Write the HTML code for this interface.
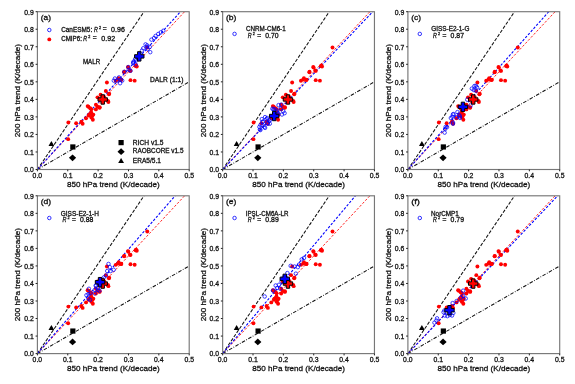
<!DOCTYPE html>
<html><head><meta charset="utf-8"><style>
html,body{margin:0;padding:0;background:#fff;}
body{width:575px;height:384px;overflow:hidden;}
svg{display:block;will-change:transform;filter:blur(0.25px);}
text{font-family:"Liberation Sans", sans-serif;fill:#111;stroke:#111;stroke-width:0.28px;}
</style></head><body>
<svg width="575" height="384" viewBox="0 0 575 384">
<clipPath id="ca"><rect x="37.4" y="11.7" width="151.8" height="157.8"/></clipPath>
<g clip-path="url(#ca)">
<line x1="37.4" y1="169.5" x2="144.01" y2="11.7" stroke="#111" stroke-width="1.05" stroke-dasharray="3.4 1.6"/>
<line x1="37.4" y1="169.5" x2="189.2" y2="81.83" stroke="#111" stroke-width="1.05" stroke-dasharray="3.6 1.5 0.8 1.5"/>
<line x1="37.4" y1="169.5" x2="184.62" y2="11.7" stroke="#ff2525" stroke-width="1.0" stroke-dasharray="2.4 1.7"/>
<line x1="37.4" y1="169.5" x2="180.46" y2="11.7" stroke="#0000ff" stroke-width="1.1" stroke-dasharray="2.5 1.6"/>
<circle cx="68.36" cy="122.51" r="1.95" fill="#ff0000"/>
<circle cx="68.16" cy="139.14" r="1.95" fill="#ff0000"/>
<circle cx="76.15" cy="123.31" r="1.95" fill="#ff0000"/>
<circle cx="81.34" cy="121.81" r="1.95" fill="#ff0000"/>
<circle cx="82.64" cy="123.81" r="1.95" fill="#ff0000"/>
<circle cx="86.04" cy="118.3" r="1.95" fill="#ff0000"/>
<circle cx="88.43" cy="106.68" r="1.95" fill="#ff0000"/>
<circle cx="90.23" cy="108.18" r="1.95" fill="#ff0000"/>
<circle cx="89.23" cy="114.5" r="1.95" fill="#ff0000"/>
<circle cx="91.23" cy="112.39" r="1.95" fill="#ff0000"/>
<circle cx="92.33" cy="116" r="1.95" fill="#ff0000"/>
<circle cx="92.83" cy="119.71" r="1.95" fill="#ff0000"/>
<circle cx="91.33" cy="117.6" r="1.95" fill="#ff0000"/>
<circle cx="90.73" cy="113.49" r="1.95" fill="#ff0000"/>
<circle cx="93.33" cy="114.6" r="1.95" fill="#ff0000"/>
<circle cx="88.63" cy="115.6" r="1.95" fill="#ff0000"/>
<circle cx="95.92" cy="104.68" r="1.95" fill="#ff0000"/>
<circle cx="97.52" cy="106.78" r="1.95" fill="#ff0000"/>
<circle cx="99.62" cy="107.78" r="1.95" fill="#ff0000"/>
<circle cx="95.92" cy="109.39" r="1.95" fill="#ff0000"/>
<circle cx="97.52" cy="97.36" r="1.95" fill="#ff0000"/>
<circle cx="100.62" cy="94.76" r="1.95" fill="#ff0000"/>
<circle cx="105.81" cy="91.05" r="1.95" fill="#ff0000"/>
<circle cx="108.91" cy="94.26" r="1.95" fill="#ff0000"/>
<circle cx="108.41" cy="102.07" r="1.95" fill="#ff0000"/>
<circle cx="106.91" cy="82.43" r="1.95" fill="#ff0000"/>
<circle cx="109.21" cy="93.66" r="1.95" fill="#ff0000"/>
<circle cx="117.99" cy="79.53" r="1.95" fill="#ff0000"/>
<circle cx="121.09" cy="80.03" r="1.95" fill="#ff0000"/>
<circle cx="130.48" cy="80.13" r="1.95" fill="#ff0000"/>
<circle cx="134.67" cy="80.63" r="1.95" fill="#ff0000"/>
<circle cx="124.29" cy="71.81" r="1.95" fill="#ff0000"/>
<circle cx="130.48" cy="70.91" r="1.95" fill="#ff0000"/>
<circle cx="128.38" cy="67.61" r="1.95" fill="#ff0000"/>
<circle cx="136.17" cy="65.5" r="1.95" fill="#ff0000"/>
<circle cx="136.77" cy="66.6" r="1.95" fill="#ff0000"/>
<circle cx="147.26" cy="47.47" r="1.95" fill="#ff0000"/>
<circle cx="115.7" cy="80.73" r="1.95" fill="#ff0000"/>
<circle cx="121.29" cy="79.63" r="1.95" fill="#ff0000"/>
<circle cx="118.69" cy="78.13" r="1.95" fill="#ff0000"/>
<circle cx="124.09" cy="72.22" r="1.95" fill="#ff0000"/>
<circle cx="129.98" cy="70.51" r="1.95" fill="#ff0000"/>
<circle cx="127.98" cy="67.01" r="1.95" fill="#ff0000"/>
<circle cx="135.57" cy="66.1" r="1.95" fill="#ff0000"/>
<circle cx="91.33" cy="109.19" r="1.95" fill="#ff0000"/>
<circle cx="87.63" cy="106.08" r="1.95" fill="#ff0000"/>
<circle cx="99.62" cy="107.18" r="1.95" fill="#ff0000"/>
<circle cx="103.81" cy="96.86" r="1.95" fill="#ff0000"/>
<circle cx="107.91" cy="100.87" r="1.95" fill="#ff0000"/>
<circle cx="113.8" cy="80.63" r="1.75" fill="none" stroke="#0000ff" stroke-width="0.75"/>
<circle cx="114.9" cy="78.53" r="1.75" fill="none" stroke="#0000ff" stroke-width="0.75"/>
<circle cx="117" cy="80.63" r="1.75" fill="none" stroke="#0000ff" stroke-width="0.75"/>
<circle cx="118.99" cy="77.42" r="1.75" fill="none" stroke="#0000ff" stroke-width="0.75"/>
<circle cx="120.59" cy="79.63" r="1.75" fill="none" stroke="#0000ff" stroke-width="0.75"/>
<circle cx="122.19" cy="80.63" r="1.75" fill="none" stroke="#0000ff" stroke-width="0.75"/>
<circle cx="120.09" cy="83.24" r="1.75" fill="none" stroke="#0000ff" stroke-width="0.75"/>
<circle cx="124.29" cy="71.81" r="1.75" fill="none" stroke="#0000ff" stroke-width="0.75"/>
<circle cx="128.38" cy="67.11" r="1.75" fill="none" stroke="#0000ff" stroke-width="0.75"/>
<circle cx="128.88" cy="69.71" r="1.75" fill="none" stroke="#0000ff" stroke-width="0.75"/>
<circle cx="130.48" cy="70.71" r="1.75" fill="none" stroke="#0000ff" stroke-width="0.75"/>
<circle cx="133.57" cy="62.4" r="1.75" fill="none" stroke="#0000ff" stroke-width="0.75"/>
<circle cx="136.17" cy="60.29" r="1.75" fill="none" stroke="#0000ff" stroke-width="0.75"/>
<circle cx="135.67" cy="64.5" r="1.75" fill="none" stroke="#0000ff" stroke-width="0.75"/>
<circle cx="133.57" cy="61.59" r="1.75" fill="none" stroke="#0000ff" stroke-width="0.75"/>
<circle cx="135.17" cy="58.99" r="1.75" fill="none" stroke="#0000ff" stroke-width="0.75"/>
<circle cx="133.07" cy="63.1" r="1.75" fill="none" stroke="#0000ff" stroke-width="0.75"/>
<circle cx="141.96" cy="50.57" r="1.75" fill="none" stroke="#0000ff" stroke-width="0.75"/>
<circle cx="145.56" cy="44.36" r="1.75" fill="none" stroke="#0000ff" stroke-width="0.75"/>
<circle cx="146.66" cy="46.97" r="1.75" fill="none" stroke="#0000ff" stroke-width="0.75"/>
<circle cx="147.65" cy="49.07" r="1.75" fill="none" stroke="#0000ff" stroke-width="0.75"/>
<circle cx="149.75" cy="46.97" r="1.75" fill="none" stroke="#0000ff" stroke-width="0.75"/>
<circle cx="150.25" cy="52.18" r="1.75" fill="none" stroke="#0000ff" stroke-width="0.75"/>
<circle cx="147.16" cy="45.36" r="1.75" fill="none" stroke="#0000ff" stroke-width="0.75"/>
<circle cx="151.45" cy="39.65" r="1.75" fill="none" stroke="#0000ff" stroke-width="0.75"/>
<circle cx="154.05" cy="38.05" r="1.75" fill="none" stroke="#0000ff" stroke-width="0.75"/>
<circle cx="155.59" cy="35.95" r="1.75" fill="none" stroke="#0000ff" stroke-width="0.75"/>
<circle cx="158.24" cy="33.94" r="1.75" fill="none" stroke="#0000ff" stroke-width="0.75"/>
<circle cx="160.84" cy="32.34" r="1.75" fill="none" stroke="#0000ff" stroke-width="0.75"/>
<circle cx="163.33" cy="30.74" r="1.75" fill="none" stroke="#0000ff" stroke-width="0.75"/>
<circle cx="137.77" cy="57.29" r="1.75" fill="none" stroke="#0000ff" stroke-width="0.75"/>
<circle cx="143.26" cy="48.27" r="1.75" fill="none" stroke="#0000ff" stroke-width="0.75"/>
<path d="M101.02 94.77 L104.41 94.77 L104.41 97.77 L107.41 97.77 L107.41 101.16 L104.41 101.16 L104.41 104.17 L101.02 104.17 L101.02 101.16 L98.01 101.16 L98.01 97.77 L101.02 97.77 Z" fill="#ff0000" stroke="#000" stroke-width="1.0"/>
<path d="M137.57 51.68 L140.96 51.68 L140.96 54.69 L143.97 54.69 L143.97 58.08 L140.96 58.08 L140.96 61.08 L137.57 61.08 L137.57 58.08 L134.57 58.08 L134.57 54.69 L137.57 54.69 Z" fill="#0000ff" stroke="#000" stroke-width="1.0"/>
<path d="M51.38 140.95 L54.28 145.95 L48.48 145.95 Z" fill="#000"/>
<rect x="70.25" y="144.36" width="5.2" height="5.2" fill="#000"/>
<path d="M72.55 154.38 L76.15 157.78 L72.55 161.18 L68.95 157.78 Z" fill="#000"/>
</g>
<rect x="37.4" y="11.7" width="151.8" height="157.8" fill="none" stroke="#777" stroke-width="1.15"/>
<line x1="37.4" y1="169.5" x2="37.4" y2="171.3" stroke="#222" stroke-width="1.0"/>
<text x="32.63" y="178.1" font-size="6.7px" textLength="9.46" lengthAdjust="spacingAndGlyphs">0.0</text>
<line x1="67.76" y1="169.5" x2="67.76" y2="171.3" stroke="#222" stroke-width="1.0"/>
<text x="62.98" y="178.1" font-size="6.7px" textLength="9.57" lengthAdjust="spacingAndGlyphs">0.1</text>
<line x1="98.12" y1="169.5" x2="98.12" y2="171.3" stroke="#222" stroke-width="1.0"/>
<text x="93.34" y="178.1" font-size="6.7px" textLength="9.57" lengthAdjust="spacingAndGlyphs">0.2</text>
<line x1="128.48" y1="169.5" x2="128.48" y2="171.3" stroke="#222" stroke-width="1.0"/>
<text x="123.7" y="178.1" font-size="6.7px" textLength="9.57" lengthAdjust="spacingAndGlyphs">0.3</text>
<line x1="158.84" y1="169.5" x2="158.84" y2="171.3" stroke="#222" stroke-width="1.0"/>
<text x="154.07" y="178.1" font-size="6.7px" textLength="9.46" lengthAdjust="spacingAndGlyphs">0.4</text>
<line x1="189.2" y1="169.5" x2="189.2" y2="171.3" stroke="#222" stroke-width="1.0"/>
<text x="184.42" y="178.1" font-size="6.7px" textLength="9.57" lengthAdjust="spacingAndGlyphs">0.5</text>
<line x1="35.6" y1="169.5" x2="37.4" y2="169.5" stroke="#222" stroke-width="1.0"/>
<text x="24.3" y="172.35" font-size="6.7px" textLength="9.42" lengthAdjust="spacingAndGlyphs">0.0</text>
<line x1="35.6" y1="151.97" x2="37.4" y2="151.97" stroke="#222" stroke-width="1.0"/>
<text x="24.3" y="154.82" font-size="6.7px" textLength="9.52" lengthAdjust="spacingAndGlyphs">0.1</text>
<line x1="35.6" y1="134.43" x2="37.4" y2="134.43" stroke="#222" stroke-width="1.0"/>
<text x="24.3" y="137.28" font-size="6.7px" textLength="9.52" lengthAdjust="spacingAndGlyphs">0.2</text>
<line x1="35.6" y1="116.9" x2="37.4" y2="116.9" stroke="#222" stroke-width="1.0"/>
<text x="24.3" y="119.75" font-size="6.7px" textLength="9.52" lengthAdjust="spacingAndGlyphs">0.3</text>
<line x1="35.6" y1="99.37" x2="37.4" y2="99.37" stroke="#222" stroke-width="1.0"/>
<text x="24.3" y="102.22" font-size="6.7px" textLength="9.42" lengthAdjust="spacingAndGlyphs">0.4</text>
<line x1="35.6" y1="81.83" x2="37.4" y2="81.83" stroke="#222" stroke-width="1.0"/>
<text x="24.3" y="84.68" font-size="6.7px" textLength="9.52" lengthAdjust="spacingAndGlyphs">0.5</text>
<line x1="35.6" y1="64.3" x2="37.4" y2="64.3" stroke="#222" stroke-width="1.0"/>
<text x="24.3" y="67.15" font-size="6.7px" textLength="9.52" lengthAdjust="spacingAndGlyphs">0.6</text>
<line x1="35.6" y1="46.77" x2="37.4" y2="46.77" stroke="#222" stroke-width="1.0"/>
<text x="24.3" y="49.62" font-size="6.7px" textLength="9.52" lengthAdjust="spacingAndGlyphs">0.7</text>
<line x1="35.6" y1="29.23" x2="37.4" y2="29.23" stroke="#222" stroke-width="1.0"/>
<text x="24.3" y="32.08" font-size="6.7px" textLength="9.52" lengthAdjust="spacingAndGlyphs">0.8</text>
<line x1="35.6" y1="11.7" x2="37.4" y2="11.7" stroke="#222" stroke-width="1.0"/>
<text x="24.3" y="14.55" font-size="6.7px" textLength="9.52" lengthAdjust="spacingAndGlyphs">0.9</text>
<text x="67.04" y="186.9" font-size="7.9px" textLength="92.59" lengthAdjust="spacingAndGlyphs">850 hPa trend (K/decade)</text>
<text x="-137.16" y="20.3" font-size="7.9px" textLength="93.19" lengthAdjust="spacingAndGlyphs" transform="rotate(-90)">200 hPa trend (K/decade)</text>
<text x="40.69" y="20.2" font-size="7px" textLength="10.29" lengthAdjust="spacingAndGlyphs">(a)</text>
<circle cx="49.3" cy="30" r="1.75" fill="none" stroke="#0000ff" stroke-width="0.8"/>
<circle cx="49.3" cy="39.4" r="1.95" fill="#ff0000"/>
<text x="61.15" y="31.6" font-size="6.3px" textLength="31.08" lengthAdjust="spacingAndGlyphs">CanESM5:</text>
<text x="93.96" y="31.6" font-size="6.3px" font-style="italic" textLength="3.92" lengthAdjust="spacingAndGlyphs">R</text>
<text x="98.96" y="28.7" font-size="4.3px" textLength="2.07" lengthAdjust="spacingAndGlyphs">2</text>
<text x="102.74" y="31.3" font-size="6.3px" textLength="3.9" lengthAdjust="spacingAndGlyphs">=</text>
<text x="111.13" y="31.6" font-size="6.3px" textLength="13.71" lengthAdjust="spacingAndGlyphs">0.96</text>
<text x="61.15" y="40.7" font-size="6.3px" textLength="20.75" lengthAdjust="spacingAndGlyphs">CMIP6:</text>
<text x="83.26" y="40.7" font-size="6.3px" font-style="italic" textLength="3.92" lengthAdjust="spacingAndGlyphs">R</text>
<text x="88.26" y="37.8" font-size="4.3px" textLength="2.07" lengthAdjust="spacingAndGlyphs">2</text>
<text x="92.84" y="40.4" font-size="6.3px" textLength="3.9" lengthAdjust="spacingAndGlyphs">=</text>
<text x="101.32" y="40.7" font-size="6.3px" textLength="13.82" lengthAdjust="spacingAndGlyphs">0.92</text>
<text x="82.96" y="64" font-size="6.3px" textLength="17.2" lengthAdjust="spacingAndGlyphs">MALR</text>
<text x="150.03" y="81.5" font-size="6.3px" textLength="33.45" lengthAdjust="spacingAndGlyphs">DALR (1:1)</text>
<rect x="118.5" y="140" width="5.2" height="5.2" fill="#000"/>
<path d="M121.1 148.3 L124.7 151.7 L121.1 155.1 L117.5 151.7 Z" fill="#000"/>
<path d="M121.1 158.1 L124 163.1 L118.2 163.1 Z" fill="#000"/>
<text x="132.83" y="144.5" font-size="6.3px" textLength="30.59" lengthAdjust="spacingAndGlyphs">RICH v1.5</text>
<text x="132.84" y="153.4" font-size="6.3px" textLength="50.63" lengthAdjust="spacingAndGlyphs">RAOBCORE v1.5</text>
<text x="132.83" y="162.5" font-size="6.3px" textLength="28.1" lengthAdjust="spacingAndGlyphs">ERA5/5.1</text>
<clipPath id="cb"><rect x="222.65" y="11.7" width="151.8" height="157.8"/></clipPath>
<g clip-path="url(#cb)">
<line x1="222.65" y1="169.5" x2="329.26" y2="11.7" stroke="#111" stroke-width="1.05" stroke-dasharray="3.4 1.6"/>
<line x1="222.65" y1="169.5" x2="374.45" y2="81.83" stroke="#111" stroke-width="1.05" stroke-dasharray="3.6 1.5 0.8 1.5"/>
<line x1="222.65" y1="169.5" x2="369.87" y2="11.7" stroke="#ff2525" stroke-width="1.0" stroke-dasharray="2.4 1.7"/>
<line x1="222.65" y1="169.5" x2="372.78" y2="11.7" stroke="#0000ff" stroke-width="1.1" stroke-dasharray="2.5 1.6"/>
<circle cx="253.61" cy="122.51" r="1.95" fill="#ff0000"/>
<circle cx="253.41" cy="139.14" r="1.95" fill="#ff0000"/>
<circle cx="261.4" cy="123.31" r="1.95" fill="#ff0000"/>
<circle cx="266.59" cy="121.81" r="1.95" fill="#ff0000"/>
<circle cx="267.89" cy="123.81" r="1.95" fill="#ff0000"/>
<circle cx="271.29" cy="118.3" r="1.95" fill="#ff0000"/>
<circle cx="273.68" cy="106.68" r="1.95" fill="#ff0000"/>
<circle cx="275.48" cy="108.18" r="1.95" fill="#ff0000"/>
<circle cx="274.48" cy="114.5" r="1.95" fill="#ff0000"/>
<circle cx="276.48" cy="112.39" r="1.95" fill="#ff0000"/>
<circle cx="277.58" cy="116" r="1.95" fill="#ff0000"/>
<circle cx="278.08" cy="119.71" r="1.95" fill="#ff0000"/>
<circle cx="276.58" cy="117.6" r="1.95" fill="#ff0000"/>
<circle cx="275.98" cy="113.49" r="1.95" fill="#ff0000"/>
<circle cx="278.58" cy="114.6" r="1.95" fill="#ff0000"/>
<circle cx="273.88" cy="115.6" r="1.95" fill="#ff0000"/>
<circle cx="281.17" cy="104.68" r="1.95" fill="#ff0000"/>
<circle cx="282.77" cy="106.78" r="1.95" fill="#ff0000"/>
<circle cx="284.87" cy="107.78" r="1.95" fill="#ff0000"/>
<circle cx="281.17" cy="109.39" r="1.95" fill="#ff0000"/>
<circle cx="282.77" cy="97.36" r="1.95" fill="#ff0000"/>
<circle cx="285.87" cy="94.76" r="1.95" fill="#ff0000"/>
<circle cx="291.06" cy="91.05" r="1.95" fill="#ff0000"/>
<circle cx="294.16" cy="94.26" r="1.95" fill="#ff0000"/>
<circle cx="293.66" cy="102.07" r="1.95" fill="#ff0000"/>
<circle cx="292.16" cy="82.43" r="1.95" fill="#ff0000"/>
<circle cx="294.46" cy="93.66" r="1.95" fill="#ff0000"/>
<circle cx="303.24" cy="79.53" r="1.95" fill="#ff0000"/>
<circle cx="306.34" cy="80.03" r="1.95" fill="#ff0000"/>
<circle cx="315.73" cy="80.13" r="1.95" fill="#ff0000"/>
<circle cx="319.92" cy="80.63" r="1.95" fill="#ff0000"/>
<circle cx="309.54" cy="71.81" r="1.95" fill="#ff0000"/>
<circle cx="315.73" cy="70.91" r="1.95" fill="#ff0000"/>
<circle cx="313.63" cy="67.61" r="1.95" fill="#ff0000"/>
<circle cx="321.42" cy="65.5" r="1.95" fill="#ff0000"/>
<circle cx="322.02" cy="66.6" r="1.95" fill="#ff0000"/>
<circle cx="332.51" cy="47.47" r="1.95" fill="#ff0000"/>
<circle cx="300.95" cy="80.73" r="1.95" fill="#ff0000"/>
<circle cx="306.54" cy="79.63" r="1.95" fill="#ff0000"/>
<circle cx="303.94" cy="78.13" r="1.95" fill="#ff0000"/>
<circle cx="309.34" cy="72.22" r="1.95" fill="#ff0000"/>
<circle cx="315.23" cy="70.51" r="1.95" fill="#ff0000"/>
<circle cx="313.23" cy="67.01" r="1.95" fill="#ff0000"/>
<circle cx="320.82" cy="66.1" r="1.95" fill="#ff0000"/>
<circle cx="276.58" cy="109.19" r="1.95" fill="#ff0000"/>
<circle cx="272.88" cy="106.08" r="1.95" fill="#ff0000"/>
<circle cx="284.87" cy="107.18" r="1.95" fill="#ff0000"/>
<circle cx="289.06" cy="96.86" r="1.95" fill="#ff0000"/>
<circle cx="293.16" cy="100.87" r="1.95" fill="#ff0000"/>
<circle cx="259.4" cy="126.92" r="1.75" fill="none" stroke="#0000ff" stroke-width="0.75"/>
<circle cx="260.4" cy="130.02" r="1.75" fill="none" stroke="#0000ff" stroke-width="0.75"/>
<circle cx="259.9" cy="129.52" r="1.75" fill="none" stroke="#0000ff" stroke-width="0.75"/>
<circle cx="260.5" cy="124.92" r="1.75" fill="none" stroke="#0000ff" stroke-width="0.75"/>
<circle cx="262.5" cy="121.71" r="1.75" fill="none" stroke="#0000ff" stroke-width="0.75"/>
<circle cx="261.8" cy="119.1" r="1.75" fill="none" stroke="#0000ff" stroke-width="0.75"/>
<circle cx="263.1" cy="121.71" r="1.75" fill="none" stroke="#0000ff" stroke-width="0.75"/>
<circle cx="264.39" cy="126.92" r="1.75" fill="none" stroke="#0000ff" stroke-width="0.75"/>
<circle cx="265.09" cy="127.92" r="1.75" fill="none" stroke="#0000ff" stroke-width="0.75"/>
<circle cx="265.09" cy="117.1" r="1.75" fill="none" stroke="#0000ff" stroke-width="0.75"/>
<circle cx="266.39" cy="119.1" r="1.75" fill="none" stroke="#0000ff" stroke-width="0.75"/>
<circle cx="267.19" cy="118" r="1.75" fill="none" stroke="#0000ff" stroke-width="0.75"/>
<circle cx="267.69" cy="123.21" r="1.75" fill="none" stroke="#0000ff" stroke-width="0.75"/>
<circle cx="267.69" cy="123.61" r="1.75" fill="none" stroke="#0000ff" stroke-width="0.75"/>
<circle cx="269.29" cy="120.61" r="1.75" fill="none" stroke="#0000ff" stroke-width="0.75"/>
<circle cx="269.79" cy="123.71" r="1.75" fill="none" stroke="#0000ff" stroke-width="0.75"/>
<circle cx="269.59" cy="120.41" r="1.75" fill="none" stroke="#0000ff" stroke-width="0.75"/>
<circle cx="273.48" cy="109.29" r="1.75" fill="none" stroke="#0000ff" stroke-width="0.75"/>
<circle cx="276.78" cy="110.59" r="1.75" fill="none" stroke="#0000ff" stroke-width="0.75"/>
<circle cx="278.08" cy="113.19" r="1.75" fill="none" stroke="#0000ff" stroke-width="0.75"/>
<circle cx="280.67" cy="108.58" r="1.75" fill="none" stroke="#0000ff" stroke-width="0.75"/>
<circle cx="281.32" cy="104.68" r="1.75" fill="none" stroke="#0000ff" stroke-width="0.75"/>
<circle cx="283.27" cy="111.19" r="1.75" fill="none" stroke="#0000ff" stroke-width="0.75"/>
<circle cx="284.57" cy="113.19" r="1.75" fill="none" stroke="#0000ff" stroke-width="0.75"/>
<circle cx="281.97" cy="114.5" r="1.75" fill="none" stroke="#0000ff" stroke-width="0.75"/>
<circle cx="272.38" cy="108.68" r="1.75" fill="none" stroke="#0000ff" stroke-width="0.75"/>
<circle cx="274.48" cy="109.19" r="1.75" fill="none" stroke="#0000ff" stroke-width="0.75"/>
<circle cx="277.08" cy="111.89" r="1.75" fill="none" stroke="#0000ff" stroke-width="0.75"/>
<circle cx="277.58" cy="114.5" r="1.75" fill="none" stroke="#0000ff" stroke-width="0.75"/>
<circle cx="278.58" cy="105.08" r="1.75" fill="none" stroke="#0000ff" stroke-width="0.75"/>
<circle cx="262.6" cy="125.42" r="1.75" fill="none" stroke="#0000ff" stroke-width="0.75"/>
<path d="M286.27 94.77 L289.66 94.77 L289.66 97.77 L292.66 97.77 L292.66 101.16 L289.66 101.16 L289.66 104.17 L286.27 104.17 L286.27 101.16 L283.26 101.16 L283.26 97.77 L286.27 97.77 Z" fill="#ff0000" stroke="#000" stroke-width="1.0"/>
<path d="M272.49 111.3 L275.87 111.3 L275.87 114.31 L278.88 114.31 L278.88 117.69 L275.87 117.69 L275.87 120.7 L272.49 120.7 L272.49 117.69 L269.48 117.69 L269.48 114.31 L272.49 114.31 Z" fill="#0000ff" stroke="#000" stroke-width="1.0"/>
<path d="M236.63 140.95 L239.53 145.95 L233.73 145.95 Z" fill="#000"/>
<rect x="255.5" y="144.36" width="5.2" height="5.2" fill="#000"/>
<path d="M257.8 154.38 L261.4 157.78 L257.8 161.18 L254.2 157.78 Z" fill="#000"/>
</g>
<rect x="222.65" y="11.7" width="151.8" height="157.8" fill="none" stroke="#777" stroke-width="1.15"/>
<line x1="222.65" y1="169.5" x2="222.65" y2="171.3" stroke="#222" stroke-width="1.0"/>
<text x="217.88" y="178.1" font-size="6.7px" textLength="9.46" lengthAdjust="spacingAndGlyphs">0.0</text>
<line x1="253.01" y1="169.5" x2="253.01" y2="171.3" stroke="#222" stroke-width="1.0"/>
<text x="248.23" y="178.1" font-size="6.7px" textLength="9.57" lengthAdjust="spacingAndGlyphs">0.1</text>
<line x1="283.37" y1="169.5" x2="283.37" y2="171.3" stroke="#222" stroke-width="1.0"/>
<text x="278.59" y="178.1" font-size="6.7px" textLength="9.57" lengthAdjust="spacingAndGlyphs">0.2</text>
<line x1="313.73" y1="169.5" x2="313.73" y2="171.3" stroke="#222" stroke-width="1.0"/>
<text x="308.95" y="178.1" font-size="6.7px" textLength="9.57" lengthAdjust="spacingAndGlyphs">0.3</text>
<line x1="344.09" y1="169.5" x2="344.09" y2="171.3" stroke="#222" stroke-width="1.0"/>
<text x="339.32" y="178.1" font-size="6.7px" textLength="9.46" lengthAdjust="spacingAndGlyphs">0.4</text>
<line x1="374.45" y1="169.5" x2="374.45" y2="171.3" stroke="#222" stroke-width="1.0"/>
<text x="369.67" y="178.1" font-size="6.7px" textLength="9.57" lengthAdjust="spacingAndGlyphs">0.5</text>
<line x1="220.85" y1="169.5" x2="222.65" y2="169.5" stroke="#222" stroke-width="1.0"/>
<text x="209.55" y="172.35" font-size="6.7px" textLength="9.42" lengthAdjust="spacingAndGlyphs">0.0</text>
<line x1="220.85" y1="151.97" x2="222.65" y2="151.97" stroke="#222" stroke-width="1.0"/>
<text x="209.55" y="154.82" font-size="6.7px" textLength="9.52" lengthAdjust="spacingAndGlyphs">0.1</text>
<line x1="220.85" y1="134.43" x2="222.65" y2="134.43" stroke="#222" stroke-width="1.0"/>
<text x="209.55" y="137.28" font-size="6.7px" textLength="9.52" lengthAdjust="spacingAndGlyphs">0.2</text>
<line x1="220.85" y1="116.9" x2="222.65" y2="116.9" stroke="#222" stroke-width="1.0"/>
<text x="209.55" y="119.75" font-size="6.7px" textLength="9.52" lengthAdjust="spacingAndGlyphs">0.3</text>
<line x1="220.85" y1="99.37" x2="222.65" y2="99.37" stroke="#222" stroke-width="1.0"/>
<text x="209.55" y="102.22" font-size="6.7px" textLength="9.42" lengthAdjust="spacingAndGlyphs">0.4</text>
<line x1="220.85" y1="81.83" x2="222.65" y2="81.83" stroke="#222" stroke-width="1.0"/>
<text x="209.55" y="84.68" font-size="6.7px" textLength="9.52" lengthAdjust="spacingAndGlyphs">0.5</text>
<line x1="220.85" y1="64.3" x2="222.65" y2="64.3" stroke="#222" stroke-width="1.0"/>
<text x="209.55" y="67.15" font-size="6.7px" textLength="9.52" lengthAdjust="spacingAndGlyphs">0.6</text>
<line x1="220.85" y1="46.77" x2="222.65" y2="46.77" stroke="#222" stroke-width="1.0"/>
<text x="209.55" y="49.62" font-size="6.7px" textLength="9.52" lengthAdjust="spacingAndGlyphs">0.7</text>
<line x1="220.85" y1="29.23" x2="222.65" y2="29.23" stroke="#222" stroke-width="1.0"/>
<text x="209.55" y="32.08" font-size="6.7px" textLength="9.52" lengthAdjust="spacingAndGlyphs">0.8</text>
<line x1="220.85" y1="11.7" x2="222.65" y2="11.7" stroke="#222" stroke-width="1.0"/>
<text x="209.55" y="14.55" font-size="6.7px" textLength="9.52" lengthAdjust="spacingAndGlyphs">0.9</text>
<text x="252.29" y="186.9" font-size="7.9px" textLength="92.59" lengthAdjust="spacingAndGlyphs">850 hPa trend (K/decade)</text>
<text x="-137.16" y="205.55" font-size="7.9px" textLength="93.19" lengthAdjust="spacingAndGlyphs" transform="rotate(-90)">200 hPa trend (K/decade)</text>
<text x="225.94" y="20.2" font-size="7px" textLength="10.4" lengthAdjust="spacingAndGlyphs">(b)</text>
<circle cx="234.55" cy="33.9" r="1.75" fill="none" stroke="#0000ff" stroke-width="0.8"/>
<text x="246" y="31.4" font-size="6.3px" textLength="39.7" lengthAdjust="spacingAndGlyphs">CNRM-CM6-1</text>
<text x="247.86" y="38.2" font-size="6.3px" font-style="italic" textLength="3.92" lengthAdjust="spacingAndGlyphs">R</text>
<text x="252.86" y="35.3" font-size="4.3px" textLength="2.07" lengthAdjust="spacingAndGlyphs">2</text>
<text x="257.34" y="37.9" font-size="6.3px" textLength="3.9" lengthAdjust="spacingAndGlyphs">=</text>
<text x="265.33" y="38.2" font-size="6.3px" textLength="13.29" lengthAdjust="spacingAndGlyphs">0.70</text>
<clipPath id="cc"><rect x="407.9" y="11.7" width="151.8" height="157.8"/></clipPath>
<g clip-path="url(#cc)">
<line x1="407.9" y1="169.5" x2="514.51" y2="11.7" stroke="#111" stroke-width="1.05" stroke-dasharray="3.4 1.6"/>
<line x1="407.9" y1="169.5" x2="559.7" y2="81.83" stroke="#111" stroke-width="1.05" stroke-dasharray="3.6 1.5 0.8 1.5"/>
<line x1="407.9" y1="169.5" x2="555.12" y2="11.7" stroke="#ff2525" stroke-width="1.0" stroke-dasharray="2.4 1.7"/>
<line x1="407.9" y1="169.5" x2="548.75" y2="11.7" stroke="#0000ff" stroke-width="1.1" stroke-dasharray="2.5 1.6"/>
<circle cx="438.86" cy="122.51" r="1.95" fill="#ff0000"/>
<circle cx="438.66" cy="139.14" r="1.95" fill="#ff0000"/>
<circle cx="446.65" cy="123.31" r="1.95" fill="#ff0000"/>
<circle cx="451.84" cy="121.81" r="1.95" fill="#ff0000"/>
<circle cx="453.14" cy="123.81" r="1.95" fill="#ff0000"/>
<circle cx="456.54" cy="118.3" r="1.95" fill="#ff0000"/>
<circle cx="458.93" cy="106.68" r="1.95" fill="#ff0000"/>
<circle cx="460.73" cy="108.18" r="1.95" fill="#ff0000"/>
<circle cx="459.73" cy="114.5" r="1.95" fill="#ff0000"/>
<circle cx="461.73" cy="112.39" r="1.95" fill="#ff0000"/>
<circle cx="462.83" cy="116" r="1.95" fill="#ff0000"/>
<circle cx="463.33" cy="119.71" r="1.95" fill="#ff0000"/>
<circle cx="461.83" cy="117.6" r="1.95" fill="#ff0000"/>
<circle cx="461.23" cy="113.49" r="1.95" fill="#ff0000"/>
<circle cx="463.83" cy="114.6" r="1.95" fill="#ff0000"/>
<circle cx="459.13" cy="115.6" r="1.95" fill="#ff0000"/>
<circle cx="466.42" cy="104.68" r="1.95" fill="#ff0000"/>
<circle cx="468.02" cy="106.78" r="1.95" fill="#ff0000"/>
<circle cx="470.12" cy="107.78" r="1.95" fill="#ff0000"/>
<circle cx="466.42" cy="109.39" r="1.95" fill="#ff0000"/>
<circle cx="468.02" cy="97.36" r="1.95" fill="#ff0000"/>
<circle cx="471.12" cy="94.76" r="1.95" fill="#ff0000"/>
<circle cx="476.31" cy="91.05" r="1.95" fill="#ff0000"/>
<circle cx="479.41" cy="94.26" r="1.95" fill="#ff0000"/>
<circle cx="478.91" cy="102.07" r="1.95" fill="#ff0000"/>
<circle cx="477.41" cy="82.43" r="1.95" fill="#ff0000"/>
<circle cx="479.71" cy="93.66" r="1.95" fill="#ff0000"/>
<circle cx="488.49" cy="79.53" r="1.95" fill="#ff0000"/>
<circle cx="491.59" cy="80.03" r="1.95" fill="#ff0000"/>
<circle cx="500.98" cy="80.13" r="1.95" fill="#ff0000"/>
<circle cx="505.17" cy="80.63" r="1.95" fill="#ff0000"/>
<circle cx="494.79" cy="71.81" r="1.95" fill="#ff0000"/>
<circle cx="500.98" cy="70.91" r="1.95" fill="#ff0000"/>
<circle cx="498.88" cy="67.61" r="1.95" fill="#ff0000"/>
<circle cx="506.67" cy="65.5" r="1.95" fill="#ff0000"/>
<circle cx="507.27" cy="66.6" r="1.95" fill="#ff0000"/>
<circle cx="517.76" cy="47.47" r="1.95" fill="#ff0000"/>
<circle cx="486.2" cy="80.73" r="1.95" fill="#ff0000"/>
<circle cx="491.79" cy="79.63" r="1.95" fill="#ff0000"/>
<circle cx="489.19" cy="78.13" r="1.95" fill="#ff0000"/>
<circle cx="494.59" cy="72.22" r="1.95" fill="#ff0000"/>
<circle cx="500.48" cy="70.51" r="1.95" fill="#ff0000"/>
<circle cx="498.48" cy="67.01" r="1.95" fill="#ff0000"/>
<circle cx="506.07" cy="66.1" r="1.95" fill="#ff0000"/>
<circle cx="461.83" cy="109.19" r="1.95" fill="#ff0000"/>
<circle cx="458.13" cy="106.08" r="1.95" fill="#ff0000"/>
<circle cx="470.12" cy="107.18" r="1.95" fill="#ff0000"/>
<circle cx="474.31" cy="96.86" r="1.95" fill="#ff0000"/>
<circle cx="478.41" cy="100.87" r="1.95" fill="#ff0000"/>
<circle cx="444.65" cy="132.63" r="1.75" fill="none" stroke="#0000ff" stroke-width="0.75"/>
<circle cx="445.65" cy="126.92" r="1.75" fill="none" stroke="#0000ff" stroke-width="0.75"/>
<circle cx="445.15" cy="129.02" r="1.75" fill="none" stroke="#0000ff" stroke-width="0.75"/>
<circle cx="447.05" cy="127.12" r="1.75" fill="none" stroke="#0000ff" stroke-width="0.75"/>
<circle cx="452.94" cy="122.51" r="1.75" fill="none" stroke="#0000ff" stroke-width="0.75"/>
<circle cx="452.94" cy="123.71" r="1.75" fill="none" stroke="#0000ff" stroke-width="0.75"/>
<circle cx="450.84" cy="118" r="1.75" fill="none" stroke="#0000ff" stroke-width="0.75"/>
<circle cx="452.24" cy="116.7" r="1.75" fill="none" stroke="#0000ff" stroke-width="0.75"/>
<circle cx="452.94" cy="114.4" r="1.75" fill="none" stroke="#0000ff" stroke-width="0.75"/>
<circle cx="453.54" cy="114.09" r="1.75" fill="none" stroke="#0000ff" stroke-width="0.75"/>
<circle cx="456.14" cy="117.3" r="1.75" fill="none" stroke="#0000ff" stroke-width="0.75"/>
<circle cx="457.43" cy="112.09" r="1.75" fill="none" stroke="#0000ff" stroke-width="0.75"/>
<circle cx="459.43" cy="115.4" r="1.75" fill="none" stroke="#0000ff" stroke-width="0.75"/>
<circle cx="460.03" cy="118" r="1.75" fill="none" stroke="#0000ff" stroke-width="0.75"/>
<circle cx="459.73" cy="116.4" r="1.75" fill="none" stroke="#0000ff" stroke-width="0.75"/>
<circle cx="467.22" cy="99.67" r="1.75" fill="none" stroke="#0000ff" stroke-width="0.75"/>
<circle cx="470.52" cy="105.58" r="1.75" fill="none" stroke="#0000ff" stroke-width="0.75"/>
<circle cx="471.82" cy="88.65" r="1.75" fill="none" stroke="#0000ff" stroke-width="0.75"/>
<circle cx="473.71" cy="89.95" r="1.75" fill="none" stroke="#0000ff" stroke-width="0.75"/>
<circle cx="474.41" cy="86.04" r="1.75" fill="none" stroke="#0000ff" stroke-width="0.75"/>
<circle cx="475.71" cy="90.55" r="1.75" fill="none" stroke="#0000ff" stroke-width="0.75"/>
<circle cx="477.01" cy="87.34" r="1.75" fill="none" stroke="#0000ff" stroke-width="0.75"/>
<circle cx="475.91" cy="85.84" r="1.75" fill="none" stroke="#0000ff" stroke-width="0.75"/>
<path d="M471.52 94.77 L474.91 94.77 L474.91 97.77 L477.91 97.77 L477.91 101.16 L474.91 101.16 L474.91 104.17 L471.52 104.17 L471.52 101.16 L468.51 101.16 L468.51 97.77 L471.52 97.77 Z" fill="#ff0000" stroke="#000" stroke-width="1.0"/>
<path d="M461.24 102.18 L464.62 102.18 L464.62 105.19 L467.63 105.19 L467.63 108.57 L464.62 108.57 L464.62 111.58 L461.24 111.58 L461.24 108.57 L458.23 108.57 L458.23 105.19 L461.24 105.19 Z" fill="#0000ff" stroke="#000" stroke-width="1.0"/>
<path d="M421.88 140.95 L424.78 145.95 L418.98 145.95 Z" fill="#000"/>
<rect x="440.75" y="144.36" width="5.2" height="5.2" fill="#000"/>
<path d="M443.05 154.38 L446.65 157.78 L443.05 161.18 L439.45 157.78 Z" fill="#000"/>
</g>
<rect x="407.9" y="11.7" width="151.8" height="157.8" fill="none" stroke="#777" stroke-width="1.15"/>
<line x1="407.9" y1="169.5" x2="407.9" y2="171.3" stroke="#222" stroke-width="1.0"/>
<text x="403.13" y="178.1" font-size="6.7px" textLength="9.46" lengthAdjust="spacingAndGlyphs">0.0</text>
<line x1="438.26" y1="169.5" x2="438.26" y2="171.3" stroke="#222" stroke-width="1.0"/>
<text x="433.48" y="178.1" font-size="6.7px" textLength="9.57" lengthAdjust="spacingAndGlyphs">0.1</text>
<line x1="468.62" y1="169.5" x2="468.62" y2="171.3" stroke="#222" stroke-width="1.0"/>
<text x="463.84" y="178.1" font-size="6.7px" textLength="9.57" lengthAdjust="spacingAndGlyphs">0.2</text>
<line x1="498.98" y1="169.5" x2="498.98" y2="171.3" stroke="#222" stroke-width="1.0"/>
<text x="494.2" y="178.1" font-size="6.7px" textLength="9.57" lengthAdjust="spacingAndGlyphs">0.3</text>
<line x1="529.34" y1="169.5" x2="529.34" y2="171.3" stroke="#222" stroke-width="1.0"/>
<text x="524.57" y="178.1" font-size="6.7px" textLength="9.46" lengthAdjust="spacingAndGlyphs">0.4</text>
<line x1="559.7" y1="169.5" x2="559.7" y2="171.3" stroke="#222" stroke-width="1.0"/>
<text x="554.92" y="178.1" font-size="6.7px" textLength="9.57" lengthAdjust="spacingAndGlyphs">0.5</text>
<line x1="406.1" y1="169.5" x2="407.9" y2="169.5" stroke="#222" stroke-width="1.0"/>
<text x="394.8" y="172.35" font-size="6.7px" textLength="9.42" lengthAdjust="spacingAndGlyphs">0.0</text>
<line x1="406.1" y1="151.97" x2="407.9" y2="151.97" stroke="#222" stroke-width="1.0"/>
<text x="394.8" y="154.82" font-size="6.7px" textLength="9.52" lengthAdjust="spacingAndGlyphs">0.1</text>
<line x1="406.1" y1="134.43" x2="407.9" y2="134.43" stroke="#222" stroke-width="1.0"/>
<text x="394.8" y="137.28" font-size="6.7px" textLength="9.52" lengthAdjust="spacingAndGlyphs">0.2</text>
<line x1="406.1" y1="116.9" x2="407.9" y2="116.9" stroke="#222" stroke-width="1.0"/>
<text x="394.8" y="119.75" font-size="6.7px" textLength="9.52" lengthAdjust="spacingAndGlyphs">0.3</text>
<line x1="406.1" y1="99.37" x2="407.9" y2="99.37" stroke="#222" stroke-width="1.0"/>
<text x="394.8" y="102.22" font-size="6.7px" textLength="9.42" lengthAdjust="spacingAndGlyphs">0.4</text>
<line x1="406.1" y1="81.83" x2="407.9" y2="81.83" stroke="#222" stroke-width="1.0"/>
<text x="394.8" y="84.68" font-size="6.7px" textLength="9.52" lengthAdjust="spacingAndGlyphs">0.5</text>
<line x1="406.1" y1="64.3" x2="407.9" y2="64.3" stroke="#222" stroke-width="1.0"/>
<text x="394.8" y="67.15" font-size="6.7px" textLength="9.52" lengthAdjust="spacingAndGlyphs">0.6</text>
<line x1="406.1" y1="46.77" x2="407.9" y2="46.77" stroke="#222" stroke-width="1.0"/>
<text x="394.8" y="49.62" font-size="6.7px" textLength="9.52" lengthAdjust="spacingAndGlyphs">0.7</text>
<line x1="406.1" y1="29.23" x2="407.9" y2="29.23" stroke="#222" stroke-width="1.0"/>
<text x="394.8" y="32.08" font-size="6.7px" textLength="9.52" lengthAdjust="spacingAndGlyphs">0.8</text>
<line x1="406.1" y1="11.7" x2="407.9" y2="11.7" stroke="#222" stroke-width="1.0"/>
<text x="394.8" y="14.55" font-size="6.7px" textLength="9.52" lengthAdjust="spacingAndGlyphs">0.9</text>
<text x="437.54" y="186.9" font-size="7.9px" textLength="92.59" lengthAdjust="spacingAndGlyphs">850 hPa trend (K/decade)</text>
<text x="-137.16" y="390.8" font-size="7.9px" textLength="93.19" lengthAdjust="spacingAndGlyphs" transform="rotate(-90)">200 hPa trend (K/decade)</text>
<text x="411.19" y="20.2" font-size="7px" textLength="9.79" lengthAdjust="spacingAndGlyphs">(c)</text>
<circle cx="419.8" cy="33.9" r="1.75" fill="none" stroke="#0000ff" stroke-width="0.8"/>
<text x="431.25" y="31.4" font-size="6.3px" textLength="38.17" lengthAdjust="spacingAndGlyphs">GISS-E2-1-G</text>
<text x="433.11" y="38.2" font-size="6.3px" font-style="italic" textLength="3.92" lengthAdjust="spacingAndGlyphs">R</text>
<text x="438.11" y="35.3" font-size="4.3px" textLength="2.07" lengthAdjust="spacingAndGlyphs">2</text>
<text x="442.59" y="37.9" font-size="6.3px" textLength="3.9" lengthAdjust="spacingAndGlyphs">=</text>
<text x="450.58" y="38.2" font-size="6.3px" textLength="13.41" lengthAdjust="spacingAndGlyphs">0.87</text>
<clipPath id="cd"><rect x="37.4" y="195.8" width="151.8" height="157.8"/></clipPath>
<g clip-path="url(#cd)">
<line x1="37.4" y1="353.6" x2="144.01" y2="195.8" stroke="#111" stroke-width="1.05" stroke-dasharray="3.4 1.6"/>
<line x1="37.4" y1="353.6" x2="189.2" y2="265.93" stroke="#111" stroke-width="1.05" stroke-dasharray="3.6 1.5 0.8 1.5"/>
<line x1="37.4" y1="353.6" x2="184.62" y2="195.8" stroke="#ff2525" stroke-width="1.0" stroke-dasharray="2.4 1.7"/>
<line x1="37.4" y1="353.6" x2="175.12" y2="195.8" stroke="#0000ff" stroke-width="1.1" stroke-dasharray="2.5 1.6"/>
<circle cx="68.36" cy="306.61" r="1.95" fill="#ff0000"/>
<circle cx="68.16" cy="323.24" r="1.95" fill="#ff0000"/>
<circle cx="76.15" cy="307.41" r="1.95" fill="#ff0000"/>
<circle cx="81.34" cy="305.91" r="1.95" fill="#ff0000"/>
<circle cx="82.64" cy="307.91" r="1.95" fill="#ff0000"/>
<circle cx="86.04" cy="302.4" r="1.95" fill="#ff0000"/>
<circle cx="88.43" cy="290.78" r="1.95" fill="#ff0000"/>
<circle cx="90.23" cy="292.28" r="1.95" fill="#ff0000"/>
<circle cx="89.23" cy="298.6" r="1.95" fill="#ff0000"/>
<circle cx="91.23" cy="296.49" r="1.95" fill="#ff0000"/>
<circle cx="92.33" cy="300.1" r="1.95" fill="#ff0000"/>
<circle cx="92.83" cy="303.81" r="1.95" fill="#ff0000"/>
<circle cx="91.33" cy="301.7" r="1.95" fill="#ff0000"/>
<circle cx="90.73" cy="297.59" r="1.95" fill="#ff0000"/>
<circle cx="93.33" cy="298.7" r="1.95" fill="#ff0000"/>
<circle cx="88.63" cy="299.7" r="1.95" fill="#ff0000"/>
<circle cx="95.92" cy="288.78" r="1.95" fill="#ff0000"/>
<circle cx="97.52" cy="290.88" r="1.95" fill="#ff0000"/>
<circle cx="99.62" cy="291.88" r="1.95" fill="#ff0000"/>
<circle cx="95.92" cy="293.49" r="1.95" fill="#ff0000"/>
<circle cx="97.52" cy="281.46" r="1.95" fill="#ff0000"/>
<circle cx="100.62" cy="278.86" r="1.95" fill="#ff0000"/>
<circle cx="105.81" cy="275.15" r="1.95" fill="#ff0000"/>
<circle cx="108.91" cy="278.36" r="1.95" fill="#ff0000"/>
<circle cx="108.41" cy="286.17" r="1.95" fill="#ff0000"/>
<circle cx="106.91" cy="266.53" r="1.95" fill="#ff0000"/>
<circle cx="109.21" cy="277.76" r="1.95" fill="#ff0000"/>
<circle cx="117.99" cy="263.63" r="1.95" fill="#ff0000"/>
<circle cx="121.09" cy="264.13" r="1.95" fill="#ff0000"/>
<circle cx="130.48" cy="264.23" r="1.95" fill="#ff0000"/>
<circle cx="134.67" cy="264.73" r="1.95" fill="#ff0000"/>
<circle cx="124.29" cy="255.91" r="1.95" fill="#ff0000"/>
<circle cx="130.48" cy="255.01" r="1.95" fill="#ff0000"/>
<circle cx="128.38" cy="251.71" r="1.95" fill="#ff0000"/>
<circle cx="136.17" cy="249.6" r="1.95" fill="#ff0000"/>
<circle cx="136.77" cy="250.7" r="1.95" fill="#ff0000"/>
<circle cx="147.26" cy="231.57" r="1.95" fill="#ff0000"/>
<circle cx="115.7" cy="264.83" r="1.95" fill="#ff0000"/>
<circle cx="121.29" cy="263.73" r="1.95" fill="#ff0000"/>
<circle cx="118.69" cy="262.23" r="1.95" fill="#ff0000"/>
<circle cx="124.09" cy="256.32" r="1.95" fill="#ff0000"/>
<circle cx="129.98" cy="254.61" r="1.95" fill="#ff0000"/>
<circle cx="127.98" cy="251.11" r="1.95" fill="#ff0000"/>
<circle cx="135.57" cy="250.2" r="1.95" fill="#ff0000"/>
<circle cx="91.33" cy="293.29" r="1.95" fill="#ff0000"/>
<circle cx="87.63" cy="290.18" r="1.95" fill="#ff0000"/>
<circle cx="99.62" cy="291.28" r="1.95" fill="#ff0000"/>
<circle cx="103.81" cy="280.96" r="1.95" fill="#ff0000"/>
<circle cx="107.91" cy="284.97" r="1.95" fill="#ff0000"/>
<circle cx="86.44" cy="295.19" r="1.75" fill="none" stroke="#0000ff" stroke-width="0.75"/>
<circle cx="88.33" cy="298.5" r="1.75" fill="none" stroke="#0000ff" stroke-width="0.75"/>
<circle cx="88.93" cy="288.78" r="1.75" fill="none" stroke="#0000ff" stroke-width="0.75"/>
<circle cx="88.43" cy="294.04" r="1.75" fill="none" stroke="#0000ff" stroke-width="0.75"/>
<circle cx="90.03" cy="299.8" r="1.75" fill="none" stroke="#0000ff" stroke-width="0.75"/>
<circle cx="90.33" cy="293.29" r="1.75" fill="none" stroke="#0000ff" stroke-width="0.75"/>
<circle cx="94.72" cy="293.49" r="1.75" fill="none" stroke="#0000ff" stroke-width="0.75"/>
<circle cx="94.82" cy="289.98" r="1.75" fill="none" stroke="#0000ff" stroke-width="0.75"/>
<circle cx="95.72" cy="285.67" r="1.75" fill="none" stroke="#0000ff" stroke-width="0.75"/>
<circle cx="96.12" cy="285.47" r="1.75" fill="none" stroke="#0000ff" stroke-width="0.75"/>
<circle cx="97.82" cy="289.88" r="1.75" fill="none" stroke="#0000ff" stroke-width="0.75"/>
<circle cx="98.12" cy="288.08" r="1.75" fill="none" stroke="#0000ff" stroke-width="0.75"/>
<circle cx="99.42" cy="290.68" r="1.75" fill="none" stroke="#0000ff" stroke-width="0.75"/>
<circle cx="105.91" cy="275.65" r="1.75" fill="none" stroke="#0000ff" stroke-width="0.75"/>
<circle cx="103.81" cy="277.46" r="1.75" fill="none" stroke="#0000ff" stroke-width="0.75"/>
<circle cx="107.21" cy="271.04" r="1.75" fill="none" stroke="#0000ff" stroke-width="0.75"/>
<circle cx="108.51" cy="263.93" r="1.75" fill="none" stroke="#0000ff" stroke-width="0.75"/>
<circle cx="109.8" cy="267.14" r="1.75" fill="none" stroke="#0000ff" stroke-width="0.75"/>
<circle cx="110.5" cy="271.04" r="1.75" fill="none" stroke="#0000ff" stroke-width="0.75"/>
<circle cx="113.7" cy="269.74" r="1.75" fill="none" stroke="#0000ff" stroke-width="0.75"/>
<path d="M101.02 278.87 L104.41 278.87 L104.41 281.87 L107.41 281.87 L107.41 285.26 L104.41 285.26 L104.41 288.27 L101.02 288.27 L101.02 285.26 L98.01 285.26 L98.01 281.87 L101.02 281.87 Z" fill="#ff0000" stroke="#000" stroke-width="1.0"/>
<path d="M98.33 277.46 L101.71 277.46 L101.71 280.47 L104.72 280.47 L104.72 283.86 L101.71 283.86 L101.71 286.86 L98.33 286.86 L98.33 283.86 L95.32 283.86 L95.32 280.47 L98.33 280.47 Z" fill="#0000ff" stroke="#000" stroke-width="1.0"/>
<path d="M51.38 325.05 L54.28 330.05 L48.48 330.05 Z" fill="#000"/>
<rect x="70.25" y="328.46" width="5.2" height="5.2" fill="#000"/>
<path d="M72.55 338.48 L76.15 341.88 L72.55 345.28 L68.95 341.88 Z" fill="#000"/>
</g>
<rect x="37.4" y="195.8" width="151.8" height="157.8" fill="none" stroke="#777" stroke-width="1.15"/>
<line x1="37.4" y1="353.6" x2="37.4" y2="355.4" stroke="#222" stroke-width="1.0"/>
<text x="32.63" y="362.2" font-size="6.7px" textLength="9.46" lengthAdjust="spacingAndGlyphs">0.0</text>
<line x1="67.76" y1="353.6" x2="67.76" y2="355.4" stroke="#222" stroke-width="1.0"/>
<text x="62.98" y="362.2" font-size="6.7px" textLength="9.57" lengthAdjust="spacingAndGlyphs">0.1</text>
<line x1="98.12" y1="353.6" x2="98.12" y2="355.4" stroke="#222" stroke-width="1.0"/>
<text x="93.34" y="362.2" font-size="6.7px" textLength="9.57" lengthAdjust="spacingAndGlyphs">0.2</text>
<line x1="128.48" y1="353.6" x2="128.48" y2="355.4" stroke="#222" stroke-width="1.0"/>
<text x="123.7" y="362.2" font-size="6.7px" textLength="9.57" lengthAdjust="spacingAndGlyphs">0.3</text>
<line x1="158.84" y1="353.6" x2="158.84" y2="355.4" stroke="#222" stroke-width="1.0"/>
<text x="154.07" y="362.2" font-size="6.7px" textLength="9.46" lengthAdjust="spacingAndGlyphs">0.4</text>
<line x1="189.2" y1="353.6" x2="189.2" y2="355.4" stroke="#222" stroke-width="1.0"/>
<text x="184.42" y="362.2" font-size="6.7px" textLength="9.57" lengthAdjust="spacingAndGlyphs">0.5</text>
<line x1="35.6" y1="353.6" x2="37.4" y2="353.6" stroke="#222" stroke-width="1.0"/>
<text x="24.3" y="356.45" font-size="6.7px" textLength="9.42" lengthAdjust="spacingAndGlyphs">0.0</text>
<line x1="35.6" y1="336.07" x2="37.4" y2="336.07" stroke="#222" stroke-width="1.0"/>
<text x="24.3" y="338.92" font-size="6.7px" textLength="9.52" lengthAdjust="spacingAndGlyphs">0.1</text>
<line x1="35.6" y1="318.53" x2="37.4" y2="318.53" stroke="#222" stroke-width="1.0"/>
<text x="24.3" y="321.38" font-size="6.7px" textLength="9.52" lengthAdjust="spacingAndGlyphs">0.2</text>
<line x1="35.6" y1="301" x2="37.4" y2="301" stroke="#222" stroke-width="1.0"/>
<text x="24.3" y="303.85" font-size="6.7px" textLength="9.52" lengthAdjust="spacingAndGlyphs">0.3</text>
<line x1="35.6" y1="283.47" x2="37.4" y2="283.47" stroke="#222" stroke-width="1.0"/>
<text x="24.3" y="286.32" font-size="6.7px" textLength="9.42" lengthAdjust="spacingAndGlyphs">0.4</text>
<line x1="35.6" y1="265.93" x2="37.4" y2="265.93" stroke="#222" stroke-width="1.0"/>
<text x="24.3" y="268.78" font-size="6.7px" textLength="9.52" lengthAdjust="spacingAndGlyphs">0.5</text>
<line x1="35.6" y1="248.4" x2="37.4" y2="248.4" stroke="#222" stroke-width="1.0"/>
<text x="24.3" y="251.25" font-size="6.7px" textLength="9.52" lengthAdjust="spacingAndGlyphs">0.6</text>
<line x1="35.6" y1="230.87" x2="37.4" y2="230.87" stroke="#222" stroke-width="1.0"/>
<text x="24.3" y="233.72" font-size="6.7px" textLength="9.52" lengthAdjust="spacingAndGlyphs">0.7</text>
<line x1="35.6" y1="213.33" x2="37.4" y2="213.33" stroke="#222" stroke-width="1.0"/>
<text x="24.3" y="216.18" font-size="6.7px" textLength="9.52" lengthAdjust="spacingAndGlyphs">0.8</text>
<line x1="35.6" y1="195.8" x2="37.4" y2="195.8" stroke="#222" stroke-width="1.0"/>
<text x="24.3" y="198.65" font-size="6.7px" textLength="9.52" lengthAdjust="spacingAndGlyphs">0.9</text>
<text x="67.04" y="371" font-size="7.9px" textLength="92.59" lengthAdjust="spacingAndGlyphs">850 hPa trend (K/decade)</text>
<text x="-321.26" y="20.3" font-size="7.9px" textLength="93.19" lengthAdjust="spacingAndGlyphs" transform="rotate(-90)">200 hPa trend (K/decade)</text>
<text x="40.68" y="204.3" font-size="7px" textLength="10.51" lengthAdjust="spacingAndGlyphs">(d)</text>
<circle cx="49.3" cy="218" r="1.75" fill="none" stroke="#0000ff" stroke-width="0.8"/>
<text x="60.74" y="215.5" font-size="6.3px" textLength="38.23" lengthAdjust="spacingAndGlyphs">GISS-E2-1-H</text>
<text x="62.61" y="222.3" font-size="6.3px" font-style="italic" textLength="3.92" lengthAdjust="spacingAndGlyphs">R</text>
<text x="67.61" y="219.4" font-size="4.3px" textLength="2.07" lengthAdjust="spacingAndGlyphs">2</text>
<text x="72.09" y="222" font-size="6.3px" textLength="3.9" lengthAdjust="spacingAndGlyphs">=</text>
<text x="80.08" y="222.3" font-size="6.3px" textLength="13.29" lengthAdjust="spacingAndGlyphs">0.88</text>
<clipPath id="ce"><rect x="222.65" y="195.8" width="151.8" height="157.8"/></clipPath>
<g clip-path="url(#ce)">
<line x1="222.65" y1="353.6" x2="329.26" y2="195.8" stroke="#111" stroke-width="1.05" stroke-dasharray="3.4 1.6"/>
<line x1="222.65" y1="353.6" x2="374.45" y2="265.93" stroke="#111" stroke-width="1.05" stroke-dasharray="3.6 1.5 0.8 1.5"/>
<line x1="222.65" y1="353.6" x2="369.87" y2="195.8" stroke="#ff2525" stroke-width="1.0" stroke-dasharray="2.4 1.7"/>
<line x1="222.65" y1="353.6" x2="355.42" y2="195.8" stroke="#0000ff" stroke-width="1.1" stroke-dasharray="2.5 1.6"/>
<circle cx="253.61" cy="306.61" r="1.95" fill="#ff0000"/>
<circle cx="253.41" cy="323.24" r="1.95" fill="#ff0000"/>
<circle cx="261.4" cy="307.41" r="1.95" fill="#ff0000"/>
<circle cx="266.59" cy="305.91" r="1.95" fill="#ff0000"/>
<circle cx="267.89" cy="307.91" r="1.95" fill="#ff0000"/>
<circle cx="271.29" cy="302.4" r="1.95" fill="#ff0000"/>
<circle cx="273.68" cy="290.78" r="1.95" fill="#ff0000"/>
<circle cx="275.48" cy="292.28" r="1.95" fill="#ff0000"/>
<circle cx="274.48" cy="298.6" r="1.95" fill="#ff0000"/>
<circle cx="276.48" cy="296.49" r="1.95" fill="#ff0000"/>
<circle cx="277.58" cy="300.1" r="1.95" fill="#ff0000"/>
<circle cx="278.08" cy="303.81" r="1.95" fill="#ff0000"/>
<circle cx="276.58" cy="301.7" r="1.95" fill="#ff0000"/>
<circle cx="275.98" cy="297.59" r="1.95" fill="#ff0000"/>
<circle cx="278.58" cy="298.7" r="1.95" fill="#ff0000"/>
<circle cx="273.88" cy="299.7" r="1.95" fill="#ff0000"/>
<circle cx="281.17" cy="288.78" r="1.95" fill="#ff0000"/>
<circle cx="282.77" cy="290.88" r="1.95" fill="#ff0000"/>
<circle cx="284.87" cy="291.88" r="1.95" fill="#ff0000"/>
<circle cx="281.17" cy="293.49" r="1.95" fill="#ff0000"/>
<circle cx="282.77" cy="281.46" r="1.95" fill="#ff0000"/>
<circle cx="285.87" cy="278.86" r="1.95" fill="#ff0000"/>
<circle cx="291.06" cy="275.15" r="1.95" fill="#ff0000"/>
<circle cx="294.16" cy="278.36" r="1.95" fill="#ff0000"/>
<circle cx="293.66" cy="286.17" r="1.95" fill="#ff0000"/>
<circle cx="292.16" cy="266.53" r="1.95" fill="#ff0000"/>
<circle cx="294.46" cy="277.76" r="1.95" fill="#ff0000"/>
<circle cx="303.24" cy="263.63" r="1.95" fill="#ff0000"/>
<circle cx="306.34" cy="264.13" r="1.95" fill="#ff0000"/>
<circle cx="315.73" cy="264.23" r="1.95" fill="#ff0000"/>
<circle cx="319.92" cy="264.73" r="1.95" fill="#ff0000"/>
<circle cx="309.54" cy="255.91" r="1.95" fill="#ff0000"/>
<circle cx="315.73" cy="255.01" r="1.95" fill="#ff0000"/>
<circle cx="313.63" cy="251.71" r="1.95" fill="#ff0000"/>
<circle cx="321.42" cy="249.6" r="1.95" fill="#ff0000"/>
<circle cx="322.02" cy="250.7" r="1.95" fill="#ff0000"/>
<circle cx="332.51" cy="231.57" r="1.95" fill="#ff0000"/>
<circle cx="300.95" cy="264.83" r="1.95" fill="#ff0000"/>
<circle cx="306.54" cy="263.73" r="1.95" fill="#ff0000"/>
<circle cx="303.94" cy="262.23" r="1.95" fill="#ff0000"/>
<circle cx="309.34" cy="256.32" r="1.95" fill="#ff0000"/>
<circle cx="315.23" cy="254.61" r="1.95" fill="#ff0000"/>
<circle cx="313.23" cy="251.11" r="1.95" fill="#ff0000"/>
<circle cx="320.82" cy="250.2" r="1.95" fill="#ff0000"/>
<circle cx="276.58" cy="293.29" r="1.95" fill="#ff0000"/>
<circle cx="272.88" cy="290.18" r="1.95" fill="#ff0000"/>
<circle cx="284.87" cy="291.28" r="1.95" fill="#ff0000"/>
<circle cx="289.06" cy="280.96" r="1.95" fill="#ff0000"/>
<circle cx="293.16" cy="284.97" r="1.95" fill="#ff0000"/>
<circle cx="264.69" cy="296.49" r="1.75" fill="none" stroke="#0000ff" stroke-width="0.75"/>
<circle cx="273.08" cy="290.68" r="1.75" fill="none" stroke="#0000ff" stroke-width="0.75"/>
<circle cx="275.68" cy="285.47" r="1.75" fill="none" stroke="#0000ff" stroke-width="0.75"/>
<circle cx="276.98" cy="288.08" r="1.75" fill="none" stroke="#0000ff" stroke-width="0.75"/>
<circle cx="278.98" cy="284.77" r="1.75" fill="none" stroke="#0000ff" stroke-width="0.75"/>
<circle cx="280.27" cy="288.68" r="1.75" fill="none" stroke="#0000ff" stroke-width="0.75"/>
<circle cx="281.57" cy="281.51" r="1.75" fill="none" stroke="#0000ff" stroke-width="0.75"/>
<circle cx="283.57" cy="277.46" r="1.75" fill="none" stroke="#0000ff" stroke-width="0.75"/>
<circle cx="287.36" cy="273.05" r="1.75" fill="none" stroke="#0000ff" stroke-width="0.75"/>
<circle cx="290.66" cy="265.83" r="1.75" fill="none" stroke="#0000ff" stroke-width="0.75"/>
<circle cx="294.56" cy="266.53" r="1.75" fill="none" stroke="#0000ff" stroke-width="0.75"/>
<circle cx="297.85" cy="267.14" r="1.75" fill="none" stroke="#0000ff" stroke-width="0.75"/>
<circle cx="299.15" cy="264.53" r="1.75" fill="none" stroke="#0000ff" stroke-width="0.75"/>
<circle cx="295.85" cy="273.65" r="1.75" fill="none" stroke="#0000ff" stroke-width="0.75"/>
<circle cx="301.75" cy="259.32" r="1.75" fill="none" stroke="#0000ff" stroke-width="0.75"/>
<circle cx="304.04" cy="257.92" r="1.75" fill="none" stroke="#0000ff" stroke-width="0.75"/>
<path d="M286.27 278.87 L289.66 278.87 L289.66 281.87 L292.66 281.87 L292.66 285.26 L289.66 285.26 L289.66 288.27 L286.27 288.27 L286.27 285.26 L283.26 285.26 L283.26 281.87 L286.27 281.87 Z" fill="#ff0000" stroke="#000" stroke-width="1.0"/>
<path d="M283.08 274.16 L286.46 274.16 L286.46 277.17 L289.47 277.17 L289.47 280.55 L286.46 280.55 L286.46 283.56 L283.08 283.56 L283.08 280.55 L280.07 280.55 L280.07 277.17 L283.08 277.17 Z" fill="#0000ff" stroke="#000" stroke-width="1.0"/>
<path d="M236.63 325.05 L239.53 330.05 L233.73 330.05 Z" fill="#000"/>
<rect x="255.5" y="328.46" width="5.2" height="5.2" fill="#000"/>
<path d="M257.8 338.48 L261.4 341.88 L257.8 345.28 L254.2 341.88 Z" fill="#000"/>
</g>
<rect x="222.65" y="195.8" width="151.8" height="157.8" fill="none" stroke="#777" stroke-width="1.15"/>
<line x1="222.65" y1="353.6" x2="222.65" y2="355.4" stroke="#222" stroke-width="1.0"/>
<text x="217.88" y="362.2" font-size="6.7px" textLength="9.46" lengthAdjust="spacingAndGlyphs">0.0</text>
<line x1="253.01" y1="353.6" x2="253.01" y2="355.4" stroke="#222" stroke-width="1.0"/>
<text x="248.23" y="362.2" font-size="6.7px" textLength="9.57" lengthAdjust="spacingAndGlyphs">0.1</text>
<line x1="283.37" y1="353.6" x2="283.37" y2="355.4" stroke="#222" stroke-width="1.0"/>
<text x="278.59" y="362.2" font-size="6.7px" textLength="9.57" lengthAdjust="spacingAndGlyphs">0.2</text>
<line x1="313.73" y1="353.6" x2="313.73" y2="355.4" stroke="#222" stroke-width="1.0"/>
<text x="308.95" y="362.2" font-size="6.7px" textLength="9.57" lengthAdjust="spacingAndGlyphs">0.3</text>
<line x1="344.09" y1="353.6" x2="344.09" y2="355.4" stroke="#222" stroke-width="1.0"/>
<text x="339.32" y="362.2" font-size="6.7px" textLength="9.46" lengthAdjust="spacingAndGlyphs">0.4</text>
<line x1="374.45" y1="353.6" x2="374.45" y2="355.4" stroke="#222" stroke-width="1.0"/>
<text x="369.67" y="362.2" font-size="6.7px" textLength="9.57" lengthAdjust="spacingAndGlyphs">0.5</text>
<line x1="220.85" y1="353.6" x2="222.65" y2="353.6" stroke="#222" stroke-width="1.0"/>
<text x="209.55" y="356.45" font-size="6.7px" textLength="9.42" lengthAdjust="spacingAndGlyphs">0.0</text>
<line x1="220.85" y1="336.07" x2="222.65" y2="336.07" stroke="#222" stroke-width="1.0"/>
<text x="209.55" y="338.92" font-size="6.7px" textLength="9.52" lengthAdjust="spacingAndGlyphs">0.1</text>
<line x1="220.85" y1="318.53" x2="222.65" y2="318.53" stroke="#222" stroke-width="1.0"/>
<text x="209.55" y="321.38" font-size="6.7px" textLength="9.52" lengthAdjust="spacingAndGlyphs">0.2</text>
<line x1="220.85" y1="301" x2="222.65" y2="301" stroke="#222" stroke-width="1.0"/>
<text x="209.55" y="303.85" font-size="6.7px" textLength="9.52" lengthAdjust="spacingAndGlyphs">0.3</text>
<line x1="220.85" y1="283.47" x2="222.65" y2="283.47" stroke="#222" stroke-width="1.0"/>
<text x="209.55" y="286.32" font-size="6.7px" textLength="9.42" lengthAdjust="spacingAndGlyphs">0.4</text>
<line x1="220.85" y1="265.93" x2="222.65" y2="265.93" stroke="#222" stroke-width="1.0"/>
<text x="209.55" y="268.78" font-size="6.7px" textLength="9.52" lengthAdjust="spacingAndGlyphs">0.5</text>
<line x1="220.85" y1="248.4" x2="222.65" y2="248.4" stroke="#222" stroke-width="1.0"/>
<text x="209.55" y="251.25" font-size="6.7px" textLength="9.52" lengthAdjust="spacingAndGlyphs">0.6</text>
<line x1="220.85" y1="230.87" x2="222.65" y2="230.87" stroke="#222" stroke-width="1.0"/>
<text x="209.55" y="233.72" font-size="6.7px" textLength="9.52" lengthAdjust="spacingAndGlyphs">0.7</text>
<line x1="220.85" y1="213.33" x2="222.65" y2="213.33" stroke="#222" stroke-width="1.0"/>
<text x="209.55" y="216.18" font-size="6.7px" textLength="9.52" lengthAdjust="spacingAndGlyphs">0.8</text>
<line x1="220.85" y1="195.8" x2="222.65" y2="195.8" stroke="#222" stroke-width="1.0"/>
<text x="209.55" y="198.65" font-size="6.7px" textLength="9.52" lengthAdjust="spacingAndGlyphs">0.9</text>
<text x="252.29" y="371" font-size="7.9px" textLength="92.59" lengthAdjust="spacingAndGlyphs">850 hPa trend (K/decade)</text>
<text x="-321.26" y="205.55" font-size="7.9px" textLength="93.19" lengthAdjust="spacingAndGlyphs" transform="rotate(-90)">200 hPa trend (K/decade)</text>
<text x="225.94" y="204.3" font-size="7px" textLength="10.4" lengthAdjust="spacingAndGlyphs">(e)</text>
<circle cx="234.55" cy="218" r="1.75" fill="none" stroke="#0000ff" stroke-width="0.8"/>
<text x="245.71" y="215.5" font-size="6.3px" textLength="42.8" lengthAdjust="spacingAndGlyphs">IPSL-CM6A-LR</text>
<text x="247.86" y="222.3" font-size="6.3px" font-style="italic" textLength="3.92" lengthAdjust="spacingAndGlyphs">R</text>
<text x="252.86" y="219.4" font-size="4.3px" textLength="2.07" lengthAdjust="spacingAndGlyphs">2</text>
<text x="257.34" y="222" font-size="6.3px" textLength="3.9" lengthAdjust="spacingAndGlyphs">=</text>
<text x="265.33" y="222.3" font-size="6.3px" textLength="13.41" lengthAdjust="spacingAndGlyphs">0.89</text>
<clipPath id="cf"><rect x="407.9" y="195.8" width="151.8" height="157.8"/></clipPath>
<g clip-path="url(#cf)">
<line x1="407.9" y1="353.6" x2="514.51" y2="195.8" stroke="#111" stroke-width="1.05" stroke-dasharray="3.4 1.6"/>
<line x1="407.9" y1="353.6" x2="559.7" y2="265.93" stroke="#111" stroke-width="1.05" stroke-dasharray="3.6 1.5 0.8 1.5"/>
<line x1="407.9" y1="353.6" x2="555.12" y2="195.8" stroke="#ff2525" stroke-width="1.0" stroke-dasharray="2.4 1.7"/>
<line x1="407.9" y1="353.6" x2="557.7" y2="195.8" stroke="#0000ff" stroke-width="1.1" stroke-dasharray="2.5 1.6"/>
<circle cx="438.86" cy="306.61" r="1.95" fill="#ff0000"/>
<circle cx="438.66" cy="323.24" r="1.95" fill="#ff0000"/>
<circle cx="446.65" cy="307.41" r="1.95" fill="#ff0000"/>
<circle cx="451.84" cy="305.91" r="1.95" fill="#ff0000"/>
<circle cx="453.14" cy="307.91" r="1.95" fill="#ff0000"/>
<circle cx="456.54" cy="302.4" r="1.95" fill="#ff0000"/>
<circle cx="458.93" cy="290.78" r="1.95" fill="#ff0000"/>
<circle cx="460.73" cy="292.28" r="1.95" fill="#ff0000"/>
<circle cx="459.73" cy="298.6" r="1.95" fill="#ff0000"/>
<circle cx="461.73" cy="296.49" r="1.95" fill="#ff0000"/>
<circle cx="462.83" cy="300.1" r="1.95" fill="#ff0000"/>
<circle cx="463.33" cy="303.81" r="1.95" fill="#ff0000"/>
<circle cx="461.83" cy="301.7" r="1.95" fill="#ff0000"/>
<circle cx="461.23" cy="297.59" r="1.95" fill="#ff0000"/>
<circle cx="463.83" cy="298.7" r="1.95" fill="#ff0000"/>
<circle cx="459.13" cy="299.7" r="1.95" fill="#ff0000"/>
<circle cx="466.42" cy="288.78" r="1.95" fill="#ff0000"/>
<circle cx="468.02" cy="290.88" r="1.95" fill="#ff0000"/>
<circle cx="470.12" cy="291.88" r="1.95" fill="#ff0000"/>
<circle cx="466.42" cy="293.49" r="1.95" fill="#ff0000"/>
<circle cx="468.02" cy="281.46" r="1.95" fill="#ff0000"/>
<circle cx="471.12" cy="278.86" r="1.95" fill="#ff0000"/>
<circle cx="476.31" cy="275.15" r="1.95" fill="#ff0000"/>
<circle cx="479.41" cy="278.36" r="1.95" fill="#ff0000"/>
<circle cx="478.91" cy="286.17" r="1.95" fill="#ff0000"/>
<circle cx="477.41" cy="266.53" r="1.95" fill="#ff0000"/>
<circle cx="479.71" cy="277.76" r="1.95" fill="#ff0000"/>
<circle cx="488.49" cy="263.63" r="1.95" fill="#ff0000"/>
<circle cx="491.59" cy="264.13" r="1.95" fill="#ff0000"/>
<circle cx="500.98" cy="264.23" r="1.95" fill="#ff0000"/>
<circle cx="505.17" cy="264.73" r="1.95" fill="#ff0000"/>
<circle cx="494.79" cy="255.91" r="1.95" fill="#ff0000"/>
<circle cx="500.98" cy="255.01" r="1.95" fill="#ff0000"/>
<circle cx="498.88" cy="251.71" r="1.95" fill="#ff0000"/>
<circle cx="506.67" cy="249.6" r="1.95" fill="#ff0000"/>
<circle cx="507.27" cy="250.7" r="1.95" fill="#ff0000"/>
<circle cx="517.76" cy="231.57" r="1.95" fill="#ff0000"/>
<circle cx="486.2" cy="264.83" r="1.95" fill="#ff0000"/>
<circle cx="491.79" cy="263.73" r="1.95" fill="#ff0000"/>
<circle cx="489.19" cy="262.23" r="1.95" fill="#ff0000"/>
<circle cx="494.59" cy="256.32" r="1.95" fill="#ff0000"/>
<circle cx="500.48" cy="254.61" r="1.95" fill="#ff0000"/>
<circle cx="498.48" cy="251.11" r="1.95" fill="#ff0000"/>
<circle cx="506.07" cy="250.2" r="1.95" fill="#ff0000"/>
<circle cx="461.83" cy="293.29" r="1.95" fill="#ff0000"/>
<circle cx="458.13" cy="290.18" r="1.95" fill="#ff0000"/>
<circle cx="470.12" cy="291.28" r="1.95" fill="#ff0000"/>
<circle cx="474.31" cy="280.96" r="1.95" fill="#ff0000"/>
<circle cx="478.41" cy="284.97" r="1.95" fill="#ff0000"/>
<circle cx="434.46" cy="322.64" r="1.75" fill="none" stroke="#0000ff" stroke-width="0.75"/>
<circle cx="436.36" cy="320.54" r="1.75" fill="none" stroke="#0000ff" stroke-width="0.75"/>
<circle cx="437.06" cy="318.33" r="1.75" fill="none" stroke="#0000ff" stroke-width="0.75"/>
<circle cx="443.55" cy="312.22" r="1.75" fill="none" stroke="#0000ff" stroke-width="0.75"/>
<circle cx="444.35" cy="310.52" r="1.75" fill="none" stroke="#0000ff" stroke-width="0.75"/>
<circle cx="444.85" cy="315.53" r="1.75" fill="none" stroke="#0000ff" stroke-width="0.75"/>
<circle cx="447.45" cy="316.13" r="1.75" fill="none" stroke="#0000ff" stroke-width="0.75"/>
<circle cx="449.84" cy="315.03" r="1.75" fill="none" stroke="#0000ff" stroke-width="0.75"/>
<circle cx="452.04" cy="315.53" r="1.75" fill="none" stroke="#0000ff" stroke-width="0.75"/>
<circle cx="453.34" cy="312.92" r="1.75" fill="none" stroke="#0000ff" stroke-width="0.75"/>
<circle cx="452.64" cy="303.1" r="1.75" fill="none" stroke="#0000ff" stroke-width="0.75"/>
<circle cx="456.59" cy="301.1" r="1.75" fill="none" stroke="#0000ff" stroke-width="0.75"/>
<circle cx="463.13" cy="290.68" r="1.75" fill="none" stroke="#0000ff" stroke-width="0.75"/>
<circle cx="463.13" cy="295.89" r="1.75" fill="none" stroke="#0000ff" stroke-width="0.75"/>
<circle cx="465.72" cy="298.5" r="1.75" fill="none" stroke="#0000ff" stroke-width="0.75"/>
<circle cx="460.83" cy="297.49" r="1.75" fill="none" stroke="#0000ff" stroke-width="0.75"/>
<path d="M471.52 278.87 L474.91 278.87 L474.91 281.87 L477.91 281.87 L477.91 285.26 L474.91 285.26 L474.91 288.27 L471.52 288.27 L471.52 285.26 L468.51 285.26 L468.51 281.87 L471.52 281.87 Z" fill="#ff0000" stroke="#000" stroke-width="1.0"/>
<path d="M447.75 305.52 L451.14 305.52 L451.14 308.53 L454.15 308.53 L454.15 311.91 L451.14 311.91 L451.14 314.92 L447.75 314.92 L447.75 311.91 L444.75 311.91 L444.75 308.53 L447.75 308.53 Z" fill="#0000ff" stroke="#000" stroke-width="1.0"/>
<path d="M421.88 325.05 L424.78 330.05 L418.98 330.05 Z" fill="#000"/>
<rect x="440.75" y="328.46" width="5.2" height="5.2" fill="#000"/>
<path d="M443.05 338.48 L446.65 341.88 L443.05 345.28 L439.45 341.88 Z" fill="#000"/>
</g>
<rect x="407.9" y="195.8" width="151.8" height="157.8" fill="none" stroke="#777" stroke-width="1.15"/>
<line x1="407.9" y1="353.6" x2="407.9" y2="355.4" stroke="#222" stroke-width="1.0"/>
<text x="403.13" y="362.2" font-size="6.7px" textLength="9.46" lengthAdjust="spacingAndGlyphs">0.0</text>
<line x1="438.26" y1="353.6" x2="438.26" y2="355.4" stroke="#222" stroke-width="1.0"/>
<text x="433.48" y="362.2" font-size="6.7px" textLength="9.57" lengthAdjust="spacingAndGlyphs">0.1</text>
<line x1="468.62" y1="353.6" x2="468.62" y2="355.4" stroke="#222" stroke-width="1.0"/>
<text x="463.84" y="362.2" font-size="6.7px" textLength="9.57" lengthAdjust="spacingAndGlyphs">0.2</text>
<line x1="498.98" y1="353.6" x2="498.98" y2="355.4" stroke="#222" stroke-width="1.0"/>
<text x="494.2" y="362.2" font-size="6.7px" textLength="9.57" lengthAdjust="spacingAndGlyphs">0.3</text>
<line x1="529.34" y1="353.6" x2="529.34" y2="355.4" stroke="#222" stroke-width="1.0"/>
<text x="524.57" y="362.2" font-size="6.7px" textLength="9.46" lengthAdjust="spacingAndGlyphs">0.4</text>
<line x1="559.7" y1="353.6" x2="559.7" y2="355.4" stroke="#222" stroke-width="1.0"/>
<text x="554.92" y="362.2" font-size="6.7px" textLength="9.57" lengthAdjust="spacingAndGlyphs">0.5</text>
<line x1="406.1" y1="353.6" x2="407.9" y2="353.6" stroke="#222" stroke-width="1.0"/>
<text x="394.8" y="356.45" font-size="6.7px" textLength="9.42" lengthAdjust="spacingAndGlyphs">0.0</text>
<line x1="406.1" y1="336.07" x2="407.9" y2="336.07" stroke="#222" stroke-width="1.0"/>
<text x="394.8" y="338.92" font-size="6.7px" textLength="9.52" lengthAdjust="spacingAndGlyphs">0.1</text>
<line x1="406.1" y1="318.53" x2="407.9" y2="318.53" stroke="#222" stroke-width="1.0"/>
<text x="394.8" y="321.38" font-size="6.7px" textLength="9.52" lengthAdjust="spacingAndGlyphs">0.2</text>
<line x1="406.1" y1="301" x2="407.9" y2="301" stroke="#222" stroke-width="1.0"/>
<text x="394.8" y="303.85" font-size="6.7px" textLength="9.52" lengthAdjust="spacingAndGlyphs">0.3</text>
<line x1="406.1" y1="283.47" x2="407.9" y2="283.47" stroke="#222" stroke-width="1.0"/>
<text x="394.8" y="286.32" font-size="6.7px" textLength="9.42" lengthAdjust="spacingAndGlyphs">0.4</text>
<line x1="406.1" y1="265.93" x2="407.9" y2="265.93" stroke="#222" stroke-width="1.0"/>
<text x="394.8" y="268.78" font-size="6.7px" textLength="9.52" lengthAdjust="spacingAndGlyphs">0.5</text>
<line x1="406.1" y1="248.4" x2="407.9" y2="248.4" stroke="#222" stroke-width="1.0"/>
<text x="394.8" y="251.25" font-size="6.7px" textLength="9.52" lengthAdjust="spacingAndGlyphs">0.6</text>
<line x1="406.1" y1="230.87" x2="407.9" y2="230.87" stroke="#222" stroke-width="1.0"/>
<text x="394.8" y="233.72" font-size="6.7px" textLength="9.52" lengthAdjust="spacingAndGlyphs">0.7</text>
<line x1="406.1" y1="213.33" x2="407.9" y2="213.33" stroke="#222" stroke-width="1.0"/>
<text x="394.8" y="216.18" font-size="6.7px" textLength="9.52" lengthAdjust="spacingAndGlyphs">0.8</text>
<line x1="406.1" y1="195.8" x2="407.9" y2="195.8" stroke="#222" stroke-width="1.0"/>
<text x="394.8" y="198.65" font-size="6.7px" textLength="9.52" lengthAdjust="spacingAndGlyphs">0.9</text>
<text x="437.54" y="371" font-size="7.9px" textLength="92.59" lengthAdjust="spacingAndGlyphs">850 hPa trend (K/decade)</text>
<text x="-321.26" y="390.8" font-size="7.9px" textLength="93.19" lengthAdjust="spacingAndGlyphs" transform="rotate(-90)">200 hPa trend (K/decade)</text>
<text x="411.15" y="204.3" font-size="7px" textLength="8.81" lengthAdjust="spacingAndGlyphs">(f)</text>
<circle cx="419.8" cy="218" r="1.75" fill="none" stroke="#0000ff" stroke-width="0.8"/>
<text x="431.05" y="215.5" font-size="6.3px" textLength="27.76" lengthAdjust="spacingAndGlyphs">NorCMP1</text>
<text x="433.11" y="222.3" font-size="6.3px" font-style="italic" textLength="3.92" lengthAdjust="spacingAndGlyphs">R</text>
<text x="438.11" y="219.4" font-size="4.3px" textLength="2.07" lengthAdjust="spacingAndGlyphs">2</text>
<text x="442.59" y="222" font-size="6.3px" textLength="3.9" lengthAdjust="spacingAndGlyphs">=</text>
<text x="450.58" y="222.3" font-size="6.3px" textLength="13.41" lengthAdjust="spacingAndGlyphs">0.79</text>
</svg>
</body></html>
